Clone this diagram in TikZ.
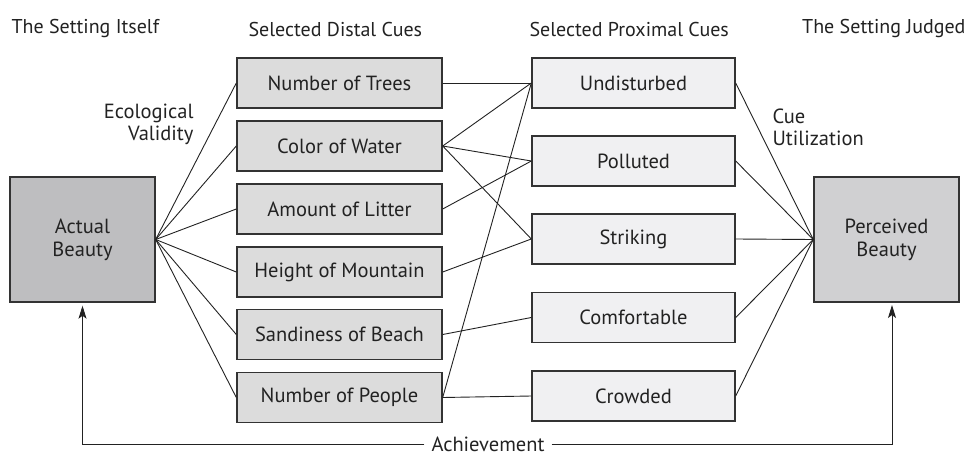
\documentclass[tikz,border=0pt]{standalone}
\usepackage{fontspec}
\setmainfont{PT Sans}
\usetikzlibrary{arrows.meta}
\definecolor{edge}{HTML}{333333}
\definecolor{outerfill}{HTML}{BEBEC0}
\definecolor{judgedfill}{HTML}{D0D0D2}
\definecolor{distalfill}{HTML}{DCDCDC}
\definecolor{proxfill}{HTML}{F0F0F2}
\definecolor{ink}{HTML}{222222}
\begin{document}
\begin{tikzpicture}[x=1pt,y=-1pt,
  every node/.style={font=\fontsize{20.5}{23}\selectfont, text=ink},
  heading/.style={font=\fontsize{20}{23}\selectfont},
  cuebox/.style={draw=edge, line width=1.4pt, minimum height=50pt, inner sep=0pt},
  distal/.style={cuebox, fill=distalfill, minimum width=205pt},
  proximal/.style={cuebox, fill=proxfill, minimum width=203pt},
  beautybox/.style={draw=edge, line width=1.4pt, minimum width=145pt, minimum height=125pt, align=center, inner sep=0pt},
  link/.style={draw=ink, line width=0.9pt},
  achieve/.style={draw=ink, line width=0.9pt, -{Stealth[length=13pt,width=8pt,inset=3pt]}, shorten >=3pt}]
\useasboundingbox (0,0) rectangle (972,455);

% column headings
\node[heading, anchor=west] (h1) at (8,29) {The Setting Itself};
\node[heading, anchor=west] (h2) at (245,29) {Selected Distal Cues};
\node[heading, anchor=west] (h3) at (526,29) {Selected Proximal Cues};
\node[heading, anchor=east] (h4) at (969,29) {The Setting Judged};

% the setting and its judgement
\node[beautybox, fill=outerfill] (A) at (82.5,239.5) {Actual\\Beauty};
\node[beautybox, fill=judgedfill] (P) at (886.5,239.5) {Perceived\\Beauty};

% distal cues
\node[distal] (d1) at (339.5,83) {Number of Trees};
\node[distal] (d2) at (339.5,146) {Color of Water};
\node[distal] (d3) at (339.5,209) {Amount of Litter};
\node[distal] (d4) at (339.5,272) {Height of Mountain};
\node[distal] (d5) at (339.5,334.5) {Sandiness of Beach};
\node[distal] (d6) at (339.5,397.5) {Number of People};

% proximal cues
\node[proximal] (p1) at (633.5,83) {Undisturbed};
\node[proximal] (p2) at (633.5,161) {Polluted};
\node[proximal] (p3) at (633.5,239) {Striking};
\node[proximal] (p4) at (633.5,317.5) {Comfortable};
\node[proximal] (p5) at (633.5,396) {Crowded};

% side labels
\node[anchor=east, align=right, font=\fontsize{20.5}{22}\selectfont] (ev) at (197,124) {Ecological\\Validity};
\node[anchor=west, align=left, font=\fontsize{20.5}{22}\selectfont] (cu) at (769,127) {Cue\\Utilization};

% ecological validity
\foreach \d in {d1,d2,d3,d4,d5,d6}
  \draw[link] (A.east) -- (\d.west);

% distal to proximal
\draw[link] (d1.east) -- (p1.west);
\draw[link] (d2.east) -- (p1.west);
\draw[link] (d2.east) -- (p2.west);
\draw[link] (d2.east) -- (p3.west);
\draw[link] (d3.east) -- (p2.west);
\draw[link] (d4.east) -- (p3.west);
\draw[link] (d5.east) -- (p4.west);
\draw[link] (d6.east) -- (p1.west);
\draw[link] (d6.east) -- (p5.west);

% cue utilization
\foreach \p in {p1,p2,p3,p4,p5}
  \draw[link] (\p.east) -- (P.west);

% achievement
\node[inner ysep=0pt, inner xsep=7pt, text height=14pt, text depth=0pt] (ach) at (488,444) {Achievement};
\coordinate (pa) at (892,302);
\draw[achieve] (ach.west) -| (A.south);
\draw[achieve] (ach.east) -| (pa);
\end{tikzpicture}
\end{document}
